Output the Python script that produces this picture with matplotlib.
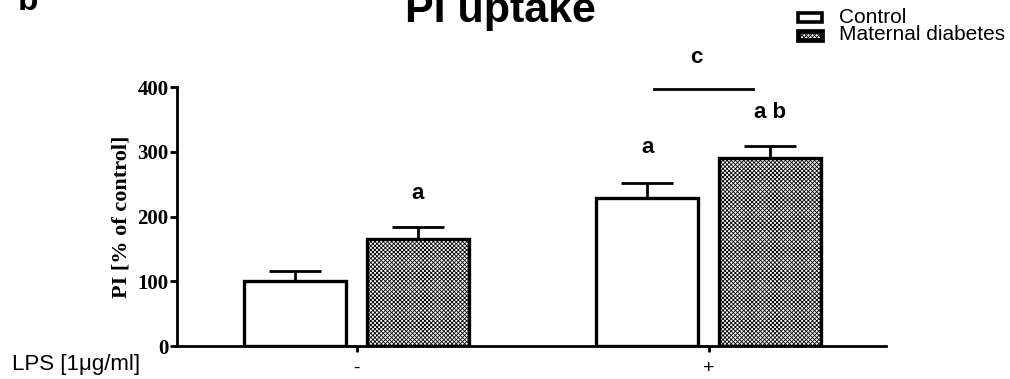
import numpy as np
import matplotlib.pyplot as plt
from matplotlib.patches import Rectangle

# data
groups = ['-', '+']
series_names = ['Control', 'Maternal diabetes']
control = [100, 229]
control_err = [16, 23]
diabetes = [165, 290]
diabetes_err = [19, 19]
labels_control = ['', 'a']
labels_diabetes = ['a', 'a b']

plt.rcParams['hatch.linewidth'] = 0.6

W, H = 1010, 379
fig = plt.figure(figsize=(W / 100, H / 100), dpi=100)
ax = fig.add_axes([0.175, 0.087, 0.702, 0.683])

x = np.arange(len(groups))
off = 0.174
w = 0.29
hatches = [None, 'xxxxxxxx']
ax.bar(x - off, control, w, color='white', edgecolor='black', linewidth=2.4, zorder=2)
ax.bar(x + off, diabetes, w, color='white', edgecolor='black', linewidth=2.4,
       hatch=hatches[1], zorder=2)

# one-sided error bars
for xs, vals, errs in [(x - off, control, control_err), (x + off, diabetes, diabetes_err)]:
    ax.errorbar(xs, vals, yerr=[np.zeros(len(errs)), errs], fmt='none', ecolor='black',
                elinewidth=2, capsize=19, capthick=2, zorder=1)

# significance letters
letter_font = dict(fontsize=16, fontweight='bold', family='Liberation Sans')
for xi, v, e, t in zip(x - off, control, control_err, labels_control):
    ax.text(xi, v + e + 55, t, ha='center', va='center', **letter_font)
for xi, v, e, t in zip(x + off, diabetes, diabetes_err, labels_diabetes):
    ax.text(xi, v + e + 52, t, ha='center', va='center', **letter_font)
ax.plot([0.844, 1.125], [397, 397], color='black', lw=2, clip_on=False)
ax.text(0.965, 446, 'c', ha='center', va='center', clip_on=False, **letter_font)

ax.set_xlim(-0.511, 1.503)
ax.set_ylim(0, 400)
ax.set_yticks([0, 100, 200, 300, 400])
ax.set_xticks(x)
ax.set_xticklabels(groups, fontsize=14, family='Liberation Sans')
for lab in ax.get_yticklabels():
    lab.set_family('Liberation Serif')
    lab.set_fontweight('bold')
    lab.set_fontsize(15)
ax.tick_params(axis='y', length=5, width=2, pad=1)
ax.tick_params(axis='x', length=4, width=2, pad=6)
for s in ['top', 'right']:
    ax.spines[s].set_visible(False)
for s in ['left', 'bottom']:
    ax.spines[s].set_linewidth(2)

ax.set_ylabel('PI [% of control]', family='Liberation Serif', fontweight='bold',
              fontsize=16, labelpad=4)

fig.text(12 / W, 1 - 370 / H, 'LPS [1\u03bcg/ml]', va='baseline', fontsize=16,
         family='Liberation Sans')
fig.text(0.495, 1 - 22 / H, 'PI uptake', ha='center', va='baseline', fontsize=31,
         fontweight='bold', family='Liberation Sans')
fig.text(0.018, 1 - 10 / H, 'b', ha='left', va='baseline', fontsize=24,
         fontweight='bold', family='Liberation Sans')

# legend drawn by hand so the two rows can sit as tight as in the reference
for i, h in enumerate(hatches):
    top = 13 + i * 18
    fig.patches.append(Rectangle((798 / W, 1 - (top + 9) / H), 24 / W, 9 / H,
                                 transform=fig.transFigure, facecolor='white',
                                 edgecolor='black', linewidth=2.6 + 0.8 * i, hatch=h))
fig.text(839 / W, 1 - 8 / H, '\n'.join(series_names), ha='left', va='top',
         linespacing=0.88, fontsize=15, family='Liberation Sans')

fig.savefig('out.png', dpi=100)
